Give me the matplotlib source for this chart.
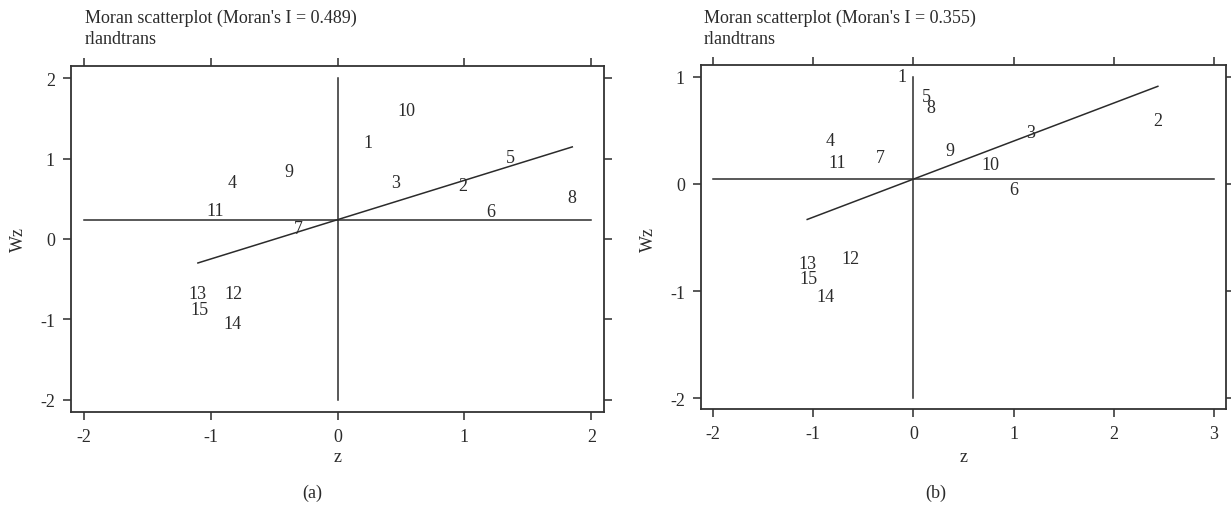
import matplotlib
matplotlib.use("Agg")
import matplotlib.pyplot as plt
import numpy as np

plt.rcParams['font.family'] = ['Liberation Serif', 'DejaVu Serif']

# panel (a)
ids = [str(i) for i in range(1, 16)]
z_a = [0.24, 0.99, 0.46, -0.83, 1.36, 1.21, -0.31, 1.85, -0.38, 0.54, -0.96, -0.82, -1.10, -0.83, -1.09]
wz_a = [1.20, 0.67, 0.70, 0.70, 1.01, 0.34, 0.13, 0.52, 0.84, 1.60, 0.35, -0.68, -0.68, -1.05, -0.87]
moran_a = 0.489
wz_mean_a = 0.24

# panel (b)
z_b = [-0.11, 2.44, 1.17, -0.83, 0.13, 1.00, -0.33, 0.17, 0.36, 0.77, -0.76, -0.63, -1.06, -0.88, -1.05]
wz_b = [1.00, 0.59, 0.48, 0.41, 0.82, -0.05, 0.25, 0.71, 0.31, 0.18, 0.20, -0.70, -0.745, -1.05, -0.885]
moran_b = 0.355
wz_mean_b = 0.045

xticks_a = [-2, -1, 0, 1, 2]
yticks_a = [-2, -1, 0, 1, 2]
xticks_b = [-2, -1, 0, 1, 2, 3]
yticks_b = [-2, -1, 0, 1]

col = '#2b2b2b'
fs = 13

fig = plt.figure(figsize=(12.31, 5.06), dpi=100)
W, H = 1231, 506


def px(x, y):
    return x / W, 1 - y / H


def moran_panel(rect, z, wz, I, wzm, xt, yt, xlim, ylim, title, tag, tx, ylx, tagx):
    ax = fig.add_axes(rect)
    ax.set_xlim(xlim)
    ax.set_ylim(ylim)
    # quadrant lines
    ax.plot([xt[0], xt[-1]], [wzm, wzm], color=col, lw=1.1)
    ax.plot([0, 0], [yt[0], yt[-1]], color=col, lw=1.1)
    # regression line
    zz = np.array([min(z), max(z)])
    ax.plot(zz, wzm + I * zz, color=col, lw=1.1)
    for lab, x, y in zip(ids, z, wz):
        ax.text(x, y, lab, ha='center', va='center', fontsize=fs, color=col)
    ax.set_xticks(xt)
    ax.set_yticks(yt)
    ax.set_xticklabels([str(v) for v in xt])
    ax.set_yticklabels([str(v) for v in yt])
    ax.tick_params(direction='out', length=5.5, width=1.1, top=True, right=True,
                   labeltop=False, labelright=False, labelsize=fs, colors=col, pad=6)
    for s in ax.spines.values():
        s.set_color('#333333')
        s.set_linewidth(1.3)
    x0 = rect[0] * W
    fig.text(*px(tx, 18), title, ha='left', va='center', fontsize=fs, color=col)
    fig.text(*px(tx, 40), 'rlandtrans', ha='left', va='center', fontsize=fs, color=col)
    fig.text(*px(ylx, 240), 'Wz', ha='center', va='center', rotation=90, fontsize=fs, color=col)
    xc = x0 + rect[2] * W / 2
    fig.text(*px(xc, 458), 'z', ha='center', va='center', fontsize=fs, color=col)
    fig.text(*px(tagx, 493), tag, ha='center', va='center', fontsize=fs, color=col)
    return ax


moran_panel([71 / W, 1 - 413 / H, 533 / W, 346 / H], z_a, wz_a, moran_a, wz_mean_a,
            xticks_a, yticks_a, (-2.1, 2.1), (-2.15, 2.15),
            "Moran scatterplot (Moran's I = 0.489)", '(a)', 85, 18, 312)
moran_panel([701 / W, 1 - 410 / H, 525 / W, 344 / H], z_b, wz_b, moran_b, wz_mean_b,
            xticks_b, yticks_b, (-2.12, 3.12), (-2.1, 1.11),
            "Moran scatterplot (Moran's I = 0.355)", '(b)', 704, 648, 936)

fig.savefig('out.png', dpi=100)
